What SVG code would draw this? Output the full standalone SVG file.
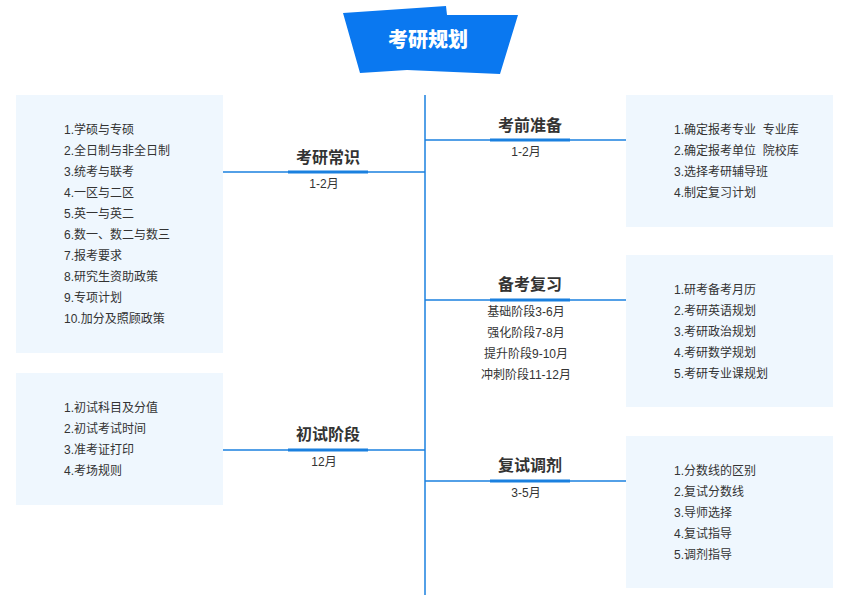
<svg xmlns="http://www.w3.org/2000/svg" width="866" height="595" viewBox="0 0 866 595">
<style>
.box{fill:#eff7fe}
.item{font-family:"Liberation Sans","Noto Sans CJK SC",sans-serif;font-size:12px;fill:#333}
.ttl{font-family:"Noto Sans CJK SC",sans-serif;font-size:16px;font-weight:bold;fill:#333;text-anchor:middle}
.sub{font-family:"Liberation Sans","Noto Sans CJK SC",sans-serif;font-size:12px;fill:#333;text-anchor:middle}
.ln{stroke:#1a80df;stroke-width:1.5;fill:none}
.bar{fill:#1a80df}
</style>
<rect width="866" height="595" fill="#fff"/>
<g id="title">
<polygon points="343,13 446,6 447,15 518,15 500,74 407,70 360,73" fill="#0a78f0"/>
<text x="428" y="47" font-family="Noto Sans CJK SC,sans-serif" font-size="20" font-weight="900" fill="#fff" text-anchor="middle">考研规划</text>
</g>
<g id="connectors">
<line class="ln" x1="425" y1="95" x2="425" y2="595" stroke-width="2"/>
<line class="ln" x1="223" y1="172" x2="425" y2="172"/>
<line class="ln" x1="425" y1="140" x2="626" y2="140"/>
<line class="ln" x1="425" y1="300" x2="626" y2="300"/>
<line class="ln" x1="223" y1="450" x2="425" y2="450"/>
<line class="ln" x1="425" y1="481" x2="626" y2="481"/>
</g>
<g id="n-changshi">
<rect class="box" x="16" y="95" width="207" height="258"/>
<text class="item" x="64" y="134">1.学硕与专硕</text>
<text class="item" x="64" y="155">2.全日制与非全日制</text>
<text class="item" x="64" y="176">3.统考与联考</text>
<text class="item" x="64" y="197">4.一区与二区</text>
<text class="item" x="64" y="218">5.英一与英二</text>
<text class="item" x="64" y="239">6.数一、数二与数三</text>
<text class="item" x="64" y="260">7.报考要求</text>
<text class="item" x="64" y="281">8.研究生资助政策</text>
<text class="item" x="64" y="302">9.专项计划</text>
<text class="item" x="64" y="323">10.加分及照顾政策</text>
<rect class="bar" x="288" y="170.5" width="80" height="3"/>
<text class="ttl" x="328" y="163">考研常识</text>
<text class="sub" x="324" y="188">1-2月</text>
</g>
<g id="n-chushi">
<rect class="box" x="16" y="373" width="207" height="132"/>
<text class="item" x="64" y="412">1.初试科目及分值</text>
<text class="item" x="64" y="433">2.初试考试时间</text>
<text class="item" x="64" y="454">3.准考证打印</text>
<text class="item" x="64" y="475">4.考场规则</text>
<rect class="bar" x="288" y="448.5" width="80" height="3"/>
<text class="ttl" x="328" y="440">初试阶段</text>
<text class="sub" x="324" y="466">12月</text>
</g>
<g id="n-zhunbei">
<rect class="box" x="626" y="95" width="207" height="132"/>
<text class="item" x="674" y="134" xml:space="preserve">1.确定报考专业  专业库</text>
<text class="item" x="674" y="155" xml:space="preserve">2.确定报考单位  院校库</text>
<text class="item" x="674" y="176">3.选择考研辅导班</text>
<text class="item" x="674" y="197">4.制定复习计划</text>
<rect class="bar" x="490" y="138.5" width="80" height="3"/>
<text class="ttl" x="530" y="131">考前准备</text>
<text class="sub" x="526" y="156">1-2月</text>
</g>
<g id="n-fuxi">
<rect class="box" x="626" y="255" width="207" height="152"/>
<text class="item" x="674" y="294">1.研考备考月历</text>
<text class="item" x="674" y="315">2.考研英语规划</text>
<text class="item" x="674" y="336">3.考研政治规划</text>
<text class="item" x="674" y="357">4.考研数学规划</text>
<text class="item" x="674" y="378">5.考研专业课规划</text>
<rect class="bar" x="490" y="298.5" width="80" height="3"/>
<text class="ttl" x="530" y="290">备考复习</text>
<text class="sub" x="526" y="316">基础阶段3-6月</text>
<text class="sub" x="526" y="337">强化阶段7-8月</text>
<text class="sub" x="526" y="358">提升阶段9-10月</text>
<text class="sub" x="526" y="379">冲刺阶段11-12月</text>
</g>
<g id="n-fushi">
<rect class="box" x="626" y="436" width="207" height="152"/>
<text class="item" x="674" y="475">1.分数线的区别</text>
<text class="item" x="674" y="496">2.复试分数线</text>
<text class="item" x="674" y="517">3.导师选择</text>
<text class="item" x="674" y="538">4.复试指导</text>
<text class="item" x="674" y="559">5.调剂指导</text>
<rect class="bar" x="490" y="479.5" width="80" height="3"/>
<text class="ttl" x="530" y="471">复试调剂</text>
<text class="sub" x="526" y="497">3-5月</text>
</g>
</svg>
